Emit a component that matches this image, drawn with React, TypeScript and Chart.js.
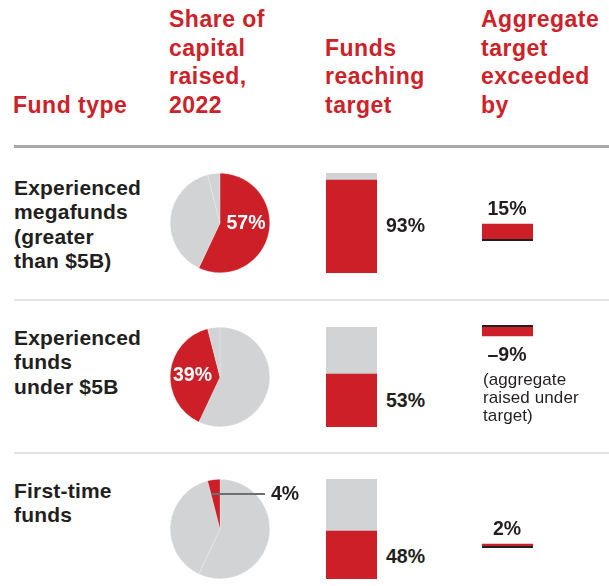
import React, { useEffect, useRef } from "react";
import { Chart, registerables } from "chart.js";

Chart.register(...registerables);

// ---------- data ----------
const fundTypes = [
  "Experienced megafunds (greater than $5B)",
  "Experienced funds under $5B",
  "First-time funds",
];
const rowLabelLines = [
  ["Experienced", "megafunds", "(greater", "than $5B)"],
  ["Experienced", "funds", "under $5B"],
  ["First-time", "funds"],
];
const headerLines = [
  ["Fund type"],
  ["Share of", "capital", "raised,", "2022"],
  ["Funds", "reaching", "target"],
  ["Aggregate", "target", "exceeded", "by"],
];
const shareOfCapital = [57, 39, 4];
const fundsReachingTarget = [93, 53, 48];
const fullTarget = [100, 100, 100];
const targetExceededBy = [15, -9, 2];
const underTargetNote = ["(aggregate", "raised under", "target)"];

// ---------- styles ----------
const RED = "#cc1f27";
const HEAD_RED = "#cc2229";
const GREY = "#d1d3d4";
const DARK = "#231f20";
const FONT = "'Liberation Sans', Arial, Helvetica, sans-serif";

// layout (positions only)
const headerLeft = [13, 169, 325, 481];
const headerTop = [90.8, 5.3, 33.8, 5.3];
const rowLabelTop = [175.5, 325.5, 478.5];
const pieTop = [173, 327, 479];
const barTop = [173, 327, 479];
const aggTop = [219, 307, 526];
const pieLabel = [
  { x: 246, y: 223, inside: true },
  { x: 192.5, y: 375, inside: true },
  { x: 271, y: 493, inside: false },
];
const barLabelY = [226, 401, 557];
const aggLabelY = [209, 355, 529];

const fmt = (v: number) => (v < 0 ? "\u2013" + Math.abs(v) + "%" : v + "%");

// baseline drawn just outside the bar, on the zero side
const baselinePlugin = {
  id: "baseline",
  afterDatasetsDraw(chart: any) {
    const y = chart.scales.y.getPixelForValue(0);
    const v = chart.data.datasets[0].data[0] as number;
    const { left, right } = chart.chartArea;
    const ctx = chart.ctx;
    ctx.save();
    ctx.fillStyle = DARK;
    ctx.fillRect(left, v >= 0 ? y : y - 2, right - left, 2);
    ctx.restore();
  },
};

export default function App() {
  const pieRefs = useRef<(HTMLCanvasElement | null)[]>([]);
  const barRefs = useRef<(HTMLCanvasElement | null)[]>([]);
  const aggRefs = useRef<(HTMLCanvasElement | null)[]>([]);

  useEffect(() => {
    const charts: Chart[] = [];
    const noPlugins = { legend: { display: false }, tooltip: { enabled: false } };
    fundTypes.forEach((_, i) => {
      const pc = pieRefs.current[i];
      if (pc) {
        charts.push(
          new Chart(pc, {
            type: "pie",
            data: {
              labels: fundTypes,
              datasets: [
                {
                  data: shareOfCapital,
                  backgroundColor: shareOfCapital.map((_, j) => (j === i ? RED : GREY)),
                  borderColor: "rgba(255,255,255,0.45)",
                  borderWidth: 0.5,
                },
              ],
            },
            options: {
              responsive: false,
              animation: false,
              layout: { padding: 0 },
              plugins: noPlugins as any,
            },
          })
        );
      }
      const bc = barRefs.current[i];
      if (bc) {
        charts.push(
          new Chart(bc, {
            type: "bar",
            data: {
              labels: [fundTypes[i]],
              datasets: [
                {
                  data: [fundsReachingTarget[i]],
                  backgroundColor: RED,
                  grouped: false,
                  barPercentage: 1,
                  categoryPercentage: 1,
                  borderWidth: 0,
                } as any,
                {
                  data: [fullTarget[i]],
                  backgroundColor: GREY,
                  grouped: false,
                  barPercentage: 1,
                  categoryPercentage: 1,
                  borderWidth: 0,
                } as any,
              ],
            },
            options: {
              responsive: false,
              animation: false,
              layout: { padding: 0 },
              scales: {
                x: { display: false },
                y: { display: false, min: 0, max: 100 },
              },
              plugins: noPlugins as any,
            },
          })
        );
      }
      const ac = aggRefs.current[i];
      if (ac) {
        charts.push(
          new Chart(ac, {
            type: "bar",
            data: {
              labels: [fundTypes[i]],
              datasets: [
                {
                  data: [targetExceededBy[i]],
                  backgroundColor: RED,
                  barPercentage: 1,
                  categoryPercentage: 1,
                  borderWidth: 0,
                },
              ],
            },
            options: {
              responsive: false,
              animation: false,
              layout: { padding: 0 },
              scales: {
                x: { display: false },
                y: { display: false, min: -20, max: 20 },
              },
              plugins: noPlugins as any,
            },
            plugins: [baselinePlugin],
          })
        );
      }
    });
    return () => charts.forEach((c) => c.destroy());
  }, []);

  const abs = (o: React.CSSProperties): React.CSSProperties => ({ position: "absolute", ...o });
  const pctStyle: React.CSSProperties = {
    fontFamily: FONT,
    fontWeight: 700,
    fontSize: 19.5,
    lineHeight: "19.5px",
    color: DARK,
    whiteSpace: "nowrap",
  };

  return (
    <div
      style={abs({
        left: 0,
        top: 0,
        width: 609,
        height: 586,
        background: "#fff",
        overflow: "hidden",
        fontFamily: FONT,
      })}
    >
      {headerLines.map((lines, k) => (
        <div
          key={"h" + k}
          style={abs({
            left: headerLeft[k],
            top: headerTop[k],
            fontSize: 23,
            lineHeight: "28.5px",
            fontWeight: 700,
            color: HEAD_RED,
            letterSpacing: 0.5,
            whiteSpace: "nowrap",
          })}
        >
          {lines.map((l, j) => (
            <div key={j}>{l}</div>
          ))}
        </div>
      ))}
      <div style={abs({ left: 14, top: 145, width: 595, height: 3, background: "#a7a9ac" })} />
      <div style={abs({ left: 14, top: 299, width: 595, height: 2, background: "#e3e3e4" })} />
      <div style={abs({ left: 14, top: 452, width: 595, height: 2, background: "#e3e3e4" })} />

      {rowLabelLines.map((lines, i) => (
        <div
          key={"r" + i}
          style={abs({
            left: 14,
            top: rowLabelTop[i],
            fontSize: 21,
            lineHeight: "24.5px",
            fontWeight: 700,
            color: DARK,
            letterSpacing: 0.2,
            whiteSpace: "nowrap",
          })}
        >
          {lines.map((l, j) => (
            <div key={j}>{l}</div>
          ))}
        </div>
      ))}

      {fundTypes.map((_, i) => (
        <React.Fragment key={"c" + i}>
          <canvas
            ref={(el) => {
              pieRefs.current[i] = el;
            }}
            width={100}
            height={100}
            style={abs({ left: 170, top: pieTop[i], width: 100, height: 100 })}
          />
          <canvas
            ref={(el) => {
              barRefs.current[i] = el;
            }}
            width={51}
            height={100}
            style={abs({ left: 326, top: barTop[i], width: 51, height: 100 })}
          />
          <canvas
            ref={(el) => {
              aggRefs.current[i] = el;
            }}
            width={51}
            height={40}
            style={abs({ left: 482, top: aggTop[i], width: 51, height: 40 })}
          />
        </React.Fragment>
      ))}

      {/* pie labels */}
      {shareOfCapital.map((v, i) =>
        pieLabel[i].inside ? (
          <div
            key={"pl" + i}
            style={abs({
              ...pctStyle,
              left: pieLabel[i].x,
              top: pieLabel[i].y,
              transform: "translate(-50%, -50%)",
              color: "#fff",
            })}
          >
            {fmt(v)}
          </div>
        ) : (
          <React.Fragment key={"pl" + i}>
            <div style={abs({ left: 211, top: pieLabel[i].y, width: 54, height: 2, background: "#6d6e71" })} />
            <div
              style={abs({
                ...pctStyle,
                left: pieLabel[i].x,
                top: pieLabel[i].y + 1,
                transform: "translateY(-50%)",
              })}
            >
              {fmt(v)}
            </div>
          </React.Fragment>
        )
      )}

      {fundsReachingTarget.map((v, i) => (
        <div
          key={"bl" + i}
          style={abs({ ...pctStyle, left: 386, top: barLabelY[i], transform: "translateY(-50%)" })}
        >
          {fmt(v)}
        </div>
      ))}

      {targetExceededBy.map((v, i) => (
        <div
          key={"al" + i}
          style={abs({
            ...pctStyle,
            left: 507,
            top: aggLabelY[i],
            transform: "translate(-50%, -50%)",
          })}
        >
          {fmt(v)}
        </div>
      ))}

      <div
        style={abs({
          left: 483,
          top: 371,
          fontSize: 17,
          lineHeight: "18px",
          color: DARK,
          letterSpacing: 0.1,
          whiteSpace: "nowrap",
        })}
      >
        {underTargetNote.map((l, j) => (
          <div key={j}>{l}</div>
        ))}
      </div>
    </div>
  );
}
